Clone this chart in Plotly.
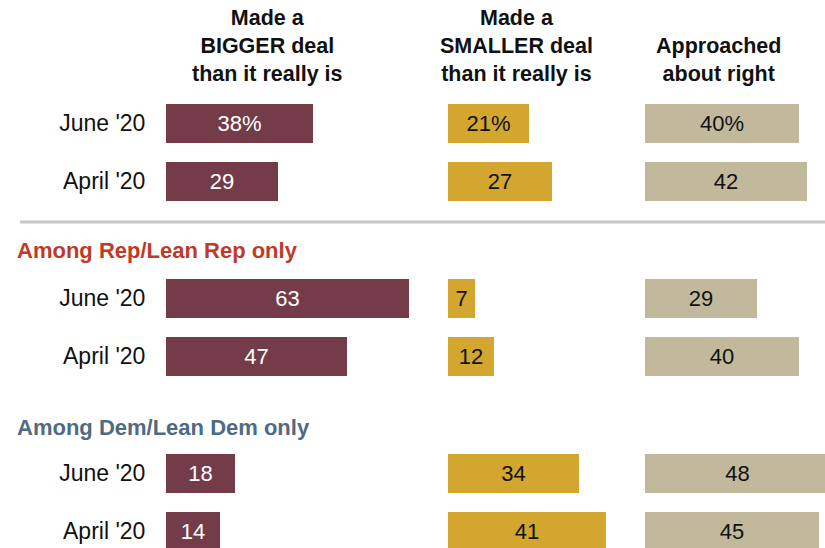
import plotly.graph_objects as go

# ---- data ----
row_labels = ["June '20", "April '20"]
groups = ["Total", "Among Rep/Lean Rep only", "Among Dem/Lean Dem only"]
bigger = [[38, 29], [63, 47], [18, 14]]
smaller = [[21, 27], [7, 12], [34, 41]]
right = [[40, 42], [29, 40], [48, 45]]
col_titles = ["Made a<br>BIGGER deal<br>than it really is",
              "Made a<br>SMALLER deal<br>than it really is",
              "Approached<br>about right"]

# ---- style ----
W, H = 825, 548
FONT = "Liberation Sans"
colors = ["#733c48", "#d3a62f", "#c2b99d"]
text_colors = ["white", "#111111", "#111111"]
group_colors = [None, "#bf3a27", "#4e6a84"]
px_per_unit = 3.86
col_left = [166, 448, 645]
col_right = [440, 640, 825]

# row center positions (pixel-like y units)
def ypos(g, r):
    return 123 + 175 * g + 58 * r

ys, ticktext = [], []
for g in range(3):
    for r in range(2):
        ys.append(ypos(g, r))
        ticktext.append(row_labels[r])

fig = go.Figure()
series = [bigger, smaller, right]
for c, data in enumerate(series):
    vals = [data[g][r] for g in range(3) for r in range(2)]
    texts = [f"{v}%" if i == 0 else str(v) for i, v in enumerate(vals)]
    fig.add_trace(go.Bar(
        x=vals, y=ys, orientation="h", width=39,
        marker=dict(color=colors[c], line=dict(width=0)),
        text=texts, textposition="inside", insidetextanchor="middle",
        textangle=0, constraintext="none",
        textfont=dict(family=FONT, size=22, color=text_colors[c]),
        xaxis="x" if c == 0 else f"x{c+1}", yaxis="y",
        hoverinfo="skip", showlegend=False,
    ))

layout = dict(
    width=W, height=H, margin=dict(l=0, r=0, t=0, b=0),
    paper_bgcolor="white", plot_bgcolor="white",
    font=dict(family=FONT, color="#111111"),
    bargap=0,
    yaxis=dict(range=[H, 0], domain=[0, 1], tickvals=ys, ticktext=ticktext,
               showgrid=False, zeroline=False, showline=False,
               ticks="outside", ticklen=15, tickcolor="rgba(0,0,0,0)",
               tickfont=dict(family=FONT, size=23, color="#111111"),
               anchor="x"),
)
for c in range(3):
    key = "xaxis" if c == 0 else f"xaxis{c+1}"
    layout[key] = dict(
        domain=[col_left[c] / W, col_right[c] / W],
        range=[0, (col_right[c] - col_left[c]) / px_per_unit],
        visible=False, anchor="y", fixedrange=True,
    )
fig.update_layout(**layout)

# column headers
title_x = [267, 516, 718]
title_y = [46, 46, 60]
for c in range(3):
    fig.add_annotation(x=title_x[c] / W, y=1 - title_y[c] / H, xref="paper", yref="paper",
                       text=f"<b>{col_titles[c]}</b>", showarrow=False,
                       xanchor="center", yanchor="middle", align="center",
                       font=dict(family=FONT, size=21.5, color="#111111"))

# group headers
for g, yy in [(1, 250), (2, 427)]:
    fig.add_annotation(x=15 / W, y=1 - yy / H, xref="paper", yref="paper",
                       text=f"<b>{groups[g]}</b>", showarrow=False,
                       xanchor="left", yanchor="middle",
                       font=dict(family=FONT, size=22, color=group_colors[g]))

# separator line
fig.add_shape(type="line", xref="paper", yref="paper",
              x0=20 / W, x1=1, y0=1 - 222 / H, y1=1 - 222 / H,
              line=dict(color="#c8c8c8", width=3))

fig.write_html("out.html", config={"displayModeBar": False},
               post_script="document.body.style.margin='0';document.body.style.padding='0';")
